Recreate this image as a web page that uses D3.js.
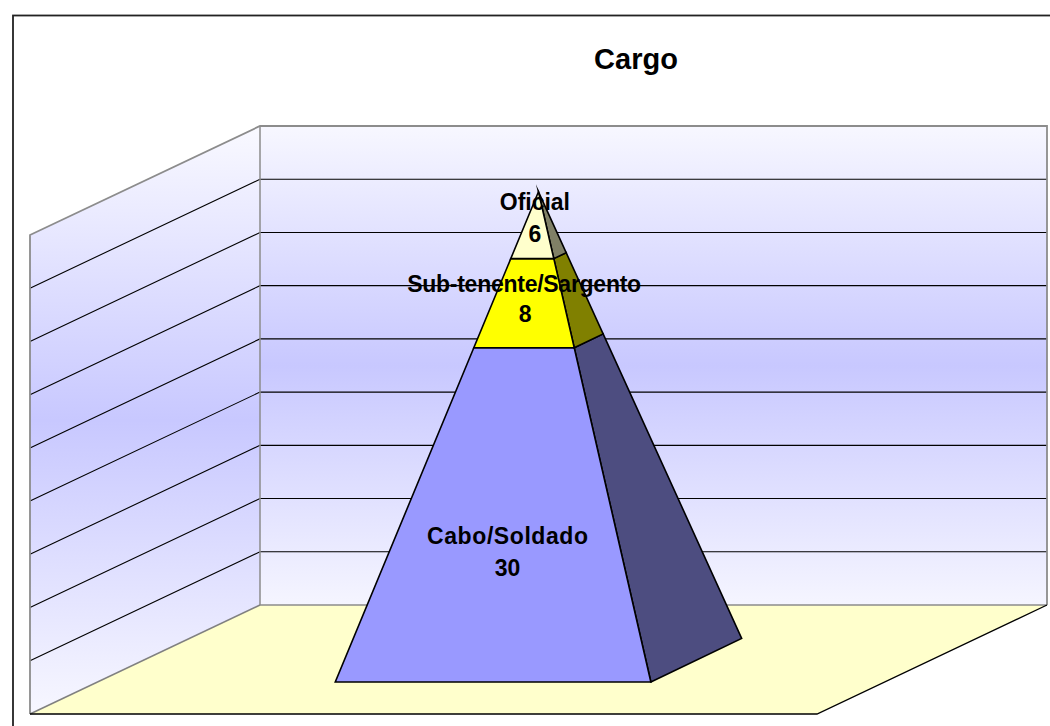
<!DOCTYPE html>
<html><head><meta charset="utf-8">
<script src="https://cdn.jsdelivr.net/npm/d3@7/dist/d3.min.js"></script>
<style>html,body{margin:0;padding:0;background:#fff;overflow:hidden}svg{display:block}</style>
</head><body><div id="c"></div>
<script>
const title = "Cargo";
const categories = ["Cabo/Soldado", "Sub-tenente/Sargento", "Oficial"];
const values = [30, 8, 6];
const frontColors = ["#9999FF", "#FFFF00", "#FFFFCC"];
const sideColors = ["#4D4D80", "#808000", "#808066"];
const gridTicks = [5, 10, 15, 20, 25, 30, 35, 40];
const labelNudgeX = [-1, -4, -0.5];
const labelNudgeY = [37, -3, -7];
const labelWidths = [161, 234, 70];
const valueNudgeX = [0, 1, 0];
const valueNudgeY = [0, -2, 0];

const W = 1050, H = 726;
const svg = d3.select("#c").append("svg").attr("width", W).attr("height", H);
const defs = svg.append("defs");
const grad = defs.append("linearGradient").attr("id", "wall")
  .attr("gradientUnits", "userSpaceOnUse").attr("x1", 0).attr("x2", 0).attr("y1", 126).attr("y2", 605);
grad.append("stop").attr("offset", 0).attr("stop-color", "#F7F7FF");
grad.append("stop").attr("offset", .5).attr("stop-color", "#C8C8FF");
grad.append("stop").attr("offset", 1).attr("stop-color", "#F5F5FF");
const gradS = defs.append("linearGradient").attr("id", "side")
  .attr("gradientUnits", "userSpaceOnUse").attr("x1", 0).attr("x2", 0).attr("y1", 126).attr("y2", 714);
gradS.append("stop").attr("offset", 0).attr("stop-color", "#F9F9FF");
gradS.append("stop").attr("offset", .5).attr("stop-color", "#C8C8FF");
gradS.append("stop").attr("offset", 1).attr("stop-color", "#F7F7FF");

// Oblique 3D projection: u across, d into the depth, v = value
const uX = d3.scaleLinear().domain([0, 1]).range([30, 817]);
const dX = d3.scaleLinear().domain([0, 1]).range([0, 230]);
const dY = d3.scaleLinear().domain([0, 1]).range([714, 605]);
const vH = d3.scaleLinear().domain([0, 45]).range([0, 479]);
const P = (u, d, v) => [uX(u) + dX(d), dY(d) - vH(v)];
const line = d3.line();
const poly = pts => line(pts) + "Z";

// frame
svg.append("rect").attr("x", 13).attr("y", 15.5).attr("width", 1100).attr("height", 800)
  .attr("fill", "#fff").attr("stroke", "#222").attr("stroke-width", 1.8);

// title
svg.append("text").text(title).attr("x", 636).attr("y", 69).attr("text-anchor", "middle")
  .attr("font-family", "Liberation Sans").attr("font-weight", "bold").attr("font-size", 29).attr("fill", "#000");

// floor
svg.append("path").attr("d", poly([P(0,0,0), P(1,0,0), P(1,1,0), P(0,1,0)])).attr("fill", "#FFFFCC");
// walls
svg.append("path").attr("d", poly([P(0,0,0), P(0,1,0), P(0,1,45), P(0,0,45)])).attr("fill", "url(#side)");
svg.append("path").attr("d", poly([P(0,1,0), P(1,1,0), P(1,1,45), P(0,1,45)])).attr("fill", "url(#wall)");

// gridlines
const grid = svg.append("g").attr("stroke", "#000").attr("stroke-width", 1.1).attr("fill", "none");
gridTicks.forEach(t => {
  grid.append("path").attr("d", line([P(0,0,t), P(0,1,t), P(1,1,t)]));
});

// wall outlines
const gray = "#8C8C8C";
svg.append("path").attr("d", line([P(0,0,0), P(0,0,45), P(0,1,45), P(1,1,45), P(1,1,0)]))
  .attr("fill", "none").attr("stroke", gray).attr("stroke-width", 1.8);
svg.append("path").attr("d", line([P(0,1,45), P(0,1,0), P(1,1,0)]))
  .attr("fill", "none").attr("stroke", gray).attr("stroke-width", 1.5);
svg.append("path").attr("d", line([P(0,0,0), P(0,1,0)])).attr("fill", "none").attr("stroke", "#808080").attr("stroke-width", 1.5);
svg.append("path").attr("d", line([P(0,0,0), P(1,0,0), P(1,1,0)])).attr("fill", "none").attr("stroke", "#000").attr("stroke-width", 1.3);

// pyramid
const total = d3.sum(values);
const cum = d3.cumsum(values);
const u0 = .302, u1 = .703, d0 = .294, d1 = .694;
const uc = (u0 + u1) / 2, dc = (d0 + d1) / 2;
const pyrDX = d3.scaleLinear().domain([d0, d1]).range([67.6, 158.4]);
const at = (u, d, v) => {
  const t = v / total, uu = u + (uc - u) * t, dd = d + (dc - d) * t;
  return [uX(uu) + pyrDX(dd), dY(dd) - vH(v)];
};
const pyr = svg.append("g").attr("stroke", "#000").attr("stroke-width", 1.6).attr("stroke-linejoin", "miter").attr("stroke-miterlimit", 12);
values.forEach((val, i) => {
  const lo = i ? cum[i - 1] : 0, hi = cum[i];
  pyr.append("path").attr("d", poly([at(u1,d0,lo), at(u1,d1,lo), at(u1,d1,hi), at(u1,d0,hi)])).attr("fill", sideColors[i]);
  pyr.append("path").attr("d", poly([at(u0,d0,lo), at(u1,d0,lo), at(u1,d0,hi), at(u0,d0,hi)])).attr("fill", frontColors[i]);
});

// labels
categories.forEach((c, i) => {
  const lo = i ? cum[i - 1] : 0, mid = lo + values[i] / 2;
  const [x, y] = at(uc, d0, mid);
  const t = svg.append("g").attr("text-anchor", "middle").attr("font-family", "Liberation Sans")
    .attr("font-weight", "bold").attr("font-size", 23).attr("fill", "#000");
  t.append("text").attr("x", x + labelNudgeX[i]).attr("y", y + labelNudgeY[i] - 8)
    .attr("textLength", labelWidths[i]).attr("lengthAdjust", "spacing").text(c);
  t.append("text").attr("x", x + labelNudgeX[i] + valueNudgeX[i]).attr("y", y + labelNudgeY[i] + 24 + valueNudgeY[i]).text(values[i]);
});
</script></body></html>
